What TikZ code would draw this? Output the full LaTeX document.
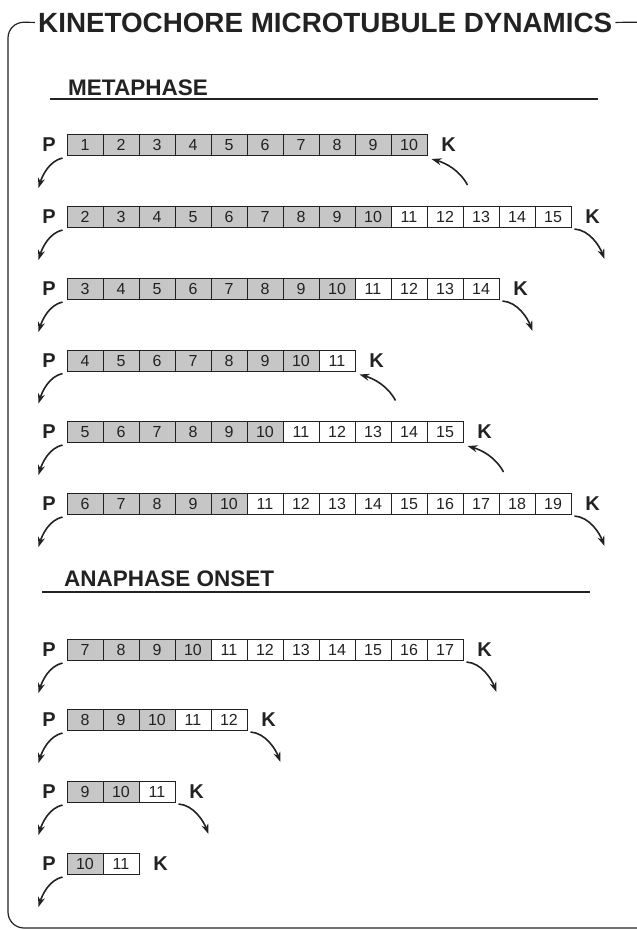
\documentclass[tikz,border=0pt]{standalone}
\usepackage{fontspec}
\setmainfont{Liberation Sans}
\usetikzlibrary{arrows.meta,calc}
\definecolor{ink}{RGB}{34,34,34}
\definecolor{tubgray}{RGB}{198,198,198}

% One kinetochore microtubule drawn as a row of subunits.
% #1 row name, #2 y of the row centre, #3 first subunit, #4 last subunit,
% #5 plus-end behaviour: g = growing, s = shrinking, n = no arrow
\newcommand\tubule[5]{%
  \foreach \n [count=\i from 0] in {#3,...,#4} {
    \ifnum\n>10 \def\fillc{white}\else\def\fillc{tubgray}\fi
    \node[cell, fill=\fillc] (#1c\n) at ({85+36*\i}, #2) {\n};
  }
  \node[endlabel] (#1P) at (49,#2) {P};
  \node[endlabel] (#1K) at ($(#1c#4.east)+(21,0)$) {K};
  % poleward flux at the minus end
  \coordinate (#1ps) at ($(#1c#3.south west)+(-4,2)$);
  \coordinate (#1pe) at ($(#1c#3.south west)+(-28,32)$);
  \draw[flux] (#1ps) .. controls +(-13,3) and +(4,-13) .. (#1pe);
  % assembly or disassembly at the kinetochore end
  \if#5g
    \coordinate (#1ks) at ($(#1c#4.south east)+(40,29)$);
    \coordinate (#1ke) at ($(#1c#4.south east)+(4,3)$);
    \draw[flux] (#1ks) .. controls +(-8,-15) and +(14,4) .. (#1ke);
  \fi
  \if#5s
    \coordinate (#1ks) at ($(#1c#4.south east)+(3,1)$);
    \coordinate (#1ke) at ($(#1c#4.south east)+(33,31)$);
    \draw[flux] (#1ks) .. controls +(15,1) and +(-5,-13) .. (#1ke);
  \fi
}

\begin{document}
\begin{tikzpicture}[x=1pt,y=-1pt,
  cell/.style={draw=ink, line width=1pt, minimum width=36pt, minimum height=21pt,
    inner sep=0pt, text height=11.5pt, text depth=0pt,
    font=\fontsize{16}{16}\selectfont, text=ink},
  endlabel/.style={font=\fontsize{20}{20}\selectfont\bfseries, text=ink, inner sep=0pt},
  flux/.style={draw=ink, line width=1.6pt, -{Stealth[length=10pt,width=7pt]}},
  heading/.style={font=\fontsize{22.5}{22.5}\selectfont\bfseries, text=ink,
    anchor=base west, inner sep=0pt},
  rule/.style={draw=ink, line width=1.2pt},
]
\useasboundingbox (0,0) rectangle (637,930);

% title and surrounding frame
\node[inner sep=0pt, anchor=base west, text=ink,
  font=\fontsize{27.8}{28}\selectfont\bfseries] (title) at (38,32)
  {KINETOCHORE MICROTUBULE DYNAMICS};
\draw[rule, rounded corners=16pt] ($(title.west)+(-3,0)$) -- (8,22) -- (8,928)
  -- (652,928) -- (652,22) -- ($(title.east)+(3,0)$);

% metaphase
\node[heading] (meta) at (68,95) {METAPHASE};
\draw[rule] (50,99) -- (598,99);
\tubule{a}{145}{1}{10}{g}
\tubule{b}{217}{2}{15}{s}
\tubule{c}{289}{3}{14}{s}
\tubule{d}{360.5}{4}{11}{g}
\tubule{e}{432}{5}{15}{g}
\tubule{f}{504}{6}{19}{s}

% anaphase onset
\node[heading] (ana) at (64,586) {ANAPHASE ONSET};
\draw[rule] (42,592) -- (590,592);
\tubule{g}{650}{7}{17}{s}
\tubule{h}{720}{8}{12}{s}
\tubule{i}{792}{9}{11}{s}
\tubule{j}{864}{10}{11}{n}
\end{tikzpicture}
\end{document}
